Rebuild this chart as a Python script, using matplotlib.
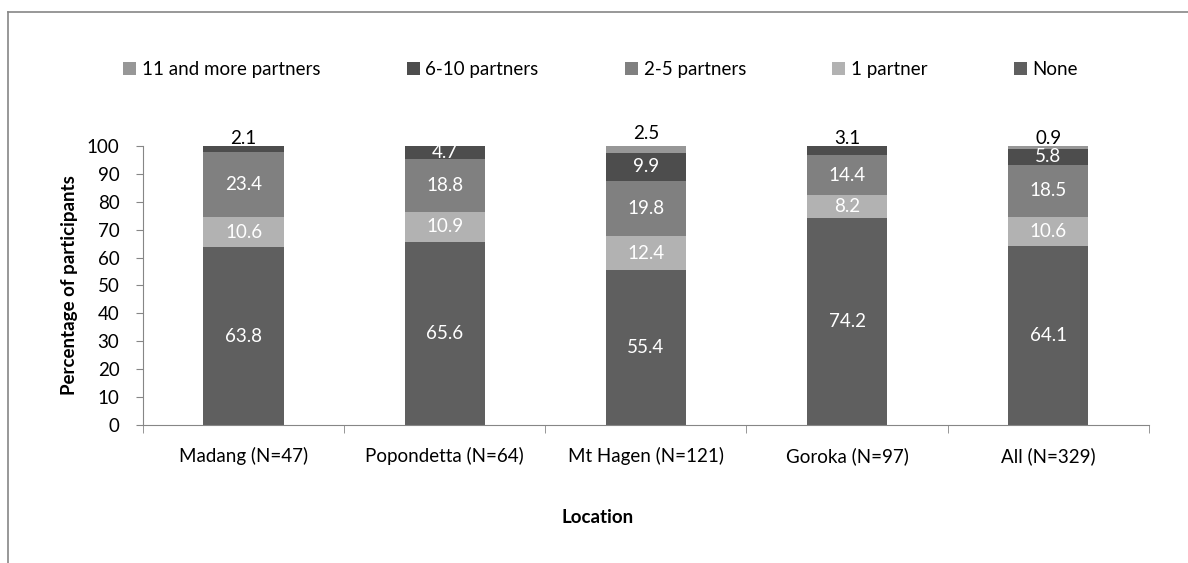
import matplotlib.pyplot as plt
import numpy as np
from matplotlib.lines import Line2D

plt.rcParams["font.family"] = ["Lato", "DejaVu Sans"]

locations = ["Madang (N=47)", "Popondetta (N=64)", "Mt Hagen (N=121)",
             "Goroka (N=97)", "All (N=329)"]

# percentage of participants per number of partners
none = [63.8, 65.6, 55.4, 74.2, 64.1]
one_partner = [10.6, 10.9, 12.4, 8.2, 10.6]
two_to_five = [23.4, 18.8, 19.8, 14.4, 18.5]
six_to_ten = [2.1, 4.7, 9.9, 3.1, 5.8]
eleven_plus = [0.0, 0.0, 2.5, 0.0, 0.9]

series = [
    ("None", none, "#5f5f5f"),
    ("1 partner", one_partner, "#b2b2b2"),
    ("2-5 partners", two_to_five, "#808080"),
    ("6-10 partners", six_to_ten, "#4d4d4d"),
    ("11 and more partners", eleven_plus, "#979797"),
]

FS = 13.5

fig = plt.figure(figsize=(11.88, 5.63), dpi=100)
ax = fig.add_axes([0.1204, 0.2451, 0.8466, 0.4956])

x = np.arange(len(locations))
bottom = np.zeros(len(locations))
for name, vals, color in series:
    ax.bar(x, vals, width=0.4, bottom=bottom, color=color,
           edgecolor="none", label=name)
    bottom += np.array(vals)

# value labels: white inside wide segments, black above thin top segments
above = {("6-10 partners", 0): -1, ("11 and more partners", 2): 3,
         ("6-10 partners", 3): -1, ("11 and more partners", 4): -1}
base = np.zeros(len(locations))
for name, vals, color in series:
    for i, v in enumerate(vals):
        if v > 0:
            if (name, i) in above:
                ax.annotate(f"{v:.1f}", (x[i], 100), xytext=(0, above[(name, i)]),
                            textcoords="offset points", ha="center", va="bottom",
                            fontsize=FS, color="black")
            else:
                ax.text(x[i], base[i] + v / 2, f"{v:.1f}", ha="center",
                        va="center", fontsize=FS, color="white")
    base += np.array(vals)

ax.set_xlim(-0.5, len(locations) - 0.5)
ax.set_ylim(0, 100)
ax.set_yticks(np.arange(0, 101, 10))
ax.set_xticks(x)
ax.set_xticklabels(locations)
ax.set_xticks(np.arange(-0.5, len(locations)), minor=True)
ax.tick_params(axis="x", which="major", length=0, pad=16, labelsize=FS)
ax.tick_params(axis="x", which="minor", length=6, color="#868686", direction="out")
ax.tick_params(axis="y", length=5, color="#868686", labelsize=FS, pad=12)
for side in ["top", "right"]:
    ax.spines[side].set_visible(False)
for side in ["left", "bottom"]:
    ax.spines[side].set_color("#868686")
ax.set_ylabel("Percentage of participants", fontsize=FS, fontweight="bold",
              labelpad=6)

fig.text(0.503, 0.08, "Location", ha="center", va="center", fontsize=FS,
         fontweight="bold")

handles, labels = ax.get_legend_handles_labels()
ax.legend(handles[::-1], labels[::-1], ncol=5, frameon=False,
          loc="center", bbox_to_anchor=(0.455, 1.275), fontsize=FS,
          handlelength=0.7, handleheight=0.7, handletextpad=0.3,
          columnspacing=4.6)

# outer chart frame (left and top edges)
fig.add_artist(Line2D([0.0070, 0.0070], [0.0, 0.979], transform=fig.transFigure,
                      color="#868686", lw=1.2))
fig.add_artist(Line2D([0.0070, 1.0], [0.979, 0.979], transform=fig.transFigure,
                      color="#868686", lw=1.2))

fig.savefig("out.png", dpi=100)
